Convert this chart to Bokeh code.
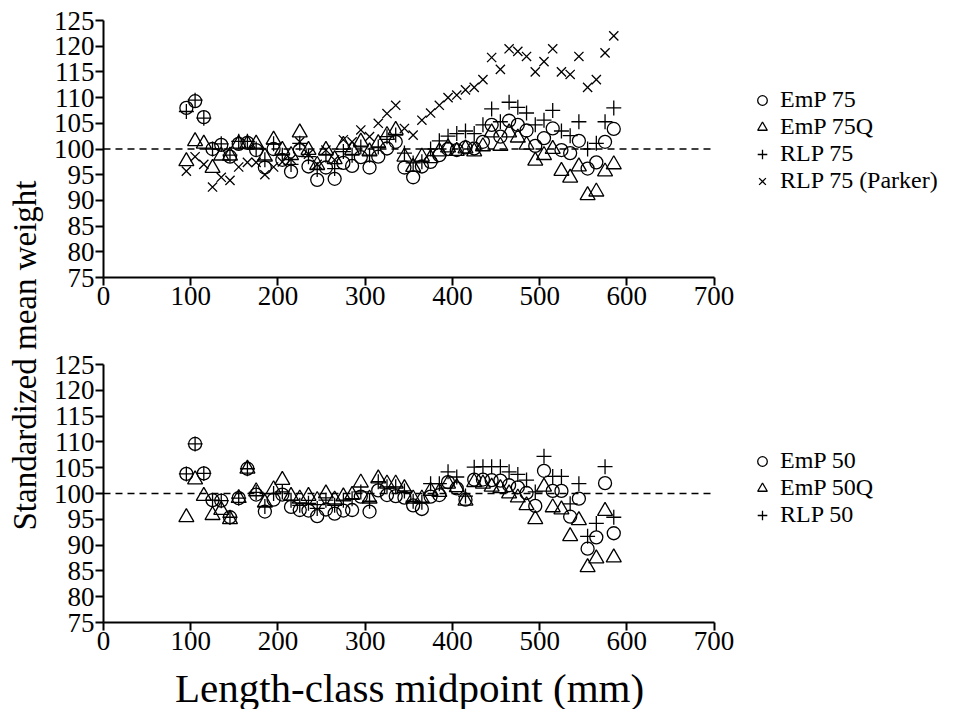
import math
from bokeh.plotting import figure
from bokeh.models import Range1d, FixedTicker, Legend, LegendItem, Label
from bokeh.layouts import row, column
from bokeh.embed import file_html
from bokeh.resources import INLINE

FONT = "Liberation Serif"

# ---------------- data ----------------
LENGTH = [95, 105, 115, 125, 135, 145, 155, 165, 175, 185,
          195, 205, 215, 225, 235, 245, 255, 265, 275, 285,
          295, 305, 315, 325, 335, 345, 355, 365, 375, 385,
          395, 405, 415, 425, 435, 445, 455, 465, 475, 485,
          495, 505, 515, 525, 535, 545, 555, 565, 575, 585]

EMP75 = [108.0, 109.3, 106.2, 100.0, 100.8, 98.5, 101.0, 101.2, 99.8, 96.4,
         100.0, 97.9, 95.6, 99.8, 96.6, 94.0, 96.4, 94.2, 97.3, 96.7,
         98.4, 96.4, 98.5, 100.1, 101.4, 96.4, 94.5, 96.6, 97.5, 98.8,
         100.0, 99.8, 100.3, 100.1, 101.4, 104.7, 102.4, 105.5, 104.7, 103.6,
         100.6, 102.1, 104.0, 99.8, 99.2, 101.6, 96.2, 97.4, 101.4, 103.9]

EMP75Q = [97.6, 101.5, 101.0, 96.3, 98.7, 98.7, 101.0, 101.0, 101.0, 98.5,
          101.8, 99.8, 98.8, 103.2, 99.8, 96.9, 99.8, 98.0, 100.8, 99.8,
          101.4, 99.5, 101.1, 102.7, 103.7, 98.5, 96.5, 98.5, 98.2, 99.5,
          100.3, 99.6, 100.1, 99.5, 100.5, 103.2, 100.6, 103.2, 102.2, 100.8,
          97.7, 98.8, 100.0, 95.7, 94.4, 96.6, 91.0, 91.7, 95.6, 97.0]

RLP75 = [107.3, 109.5, 106.0, 100.0, 101.0, 98.8, 101.5, 101.5, 100.0, 97.9,
         101.0, 98.8, 97.0, 101.1, 98.5, 96.0, 98.8, 96.2, 99.5, 98.8,
         100.4, 98.8, 100.4, 102.4, 102.7, 99.2, 97.3, 97.5, 100.0, 101.6,
         102.5, 103.0, 103.5, 103.0, 104.7, 107.8, 105.3, 109.1, 108.1, 107.0,
         104.7, 105.6, 107.5, 103.5, 102.6, 105.3, 100.0, 101.1, 105.3, 108.0]

PARKER75 = [95.7, 98.5, 97.0, 92.6, 94.5, 93.9, 96.5, 97.4, 97.4, 95.0,
            96.5, 97.5, 98.0, 101.4, 99.0, 97.0, 99.8, 97.9, 101.8, 101.4,
            103.7, 102.4, 105.0, 106.9, 108.5, 104.0, 102.7, 105.6, 107.0, 108.5,
            110.0, 110.5, 111.5, 112.0, 113.5, 117.8, 115.5, 119.5, 119.0, 118.0,
            115.0, 117.0, 119.5, 115.0, 114.5, 118.0, 112.0, 113.5, 118.7, 122.0]

EMP50 = [103.8, 109.6, 103.9, 98.7, 98.6, 95.4, 99.1, 104.8, 99.8, 96.5,
         98.8, 99.8, 97.4, 96.8, 96.7, 95.6, 96.9, 96.1, 96.7, 96.8,
         99.4, 96.5, 100.6, 99.7, 99.5, 99.2, 97.7, 97.0, 99.4, 99.7,
         102.2, 101.0, 98.8, 102.7, 102.7, 102.6, 102.5, 101.6, 101.2, 100.1,
         97.6, 104.4, 100.5, 100.5, 95.5, 99.0, 89.3, 91.5, 102.0, 92.3]

EMP50Q = [95.4, 102.7, 99.5, 95.8, 96.8, 95.0, 99.1, 104.8, 100.4, 98.2,
          100.8, 102.6, 99.5, 99.0, 99.5, 98.7, 100.0, 98.8, 99.4, 99.7,
          102.1, 99.0, 102.9, 101.9, 101.9, 101.0, 99.0, 99.0, 100.5, 100.3,
          101.9, 101.2, 98.6, 102.2, 101.9, 101.3, 101.0, 100.0, 99.2, 97.7,
          95.0, 101.3, 97.3, 96.9, 91.7, 94.8, 85.7, 87.4, 96.6, 87.6]

RLP50 = [103.8, 109.6, 103.9, 98.7, 98.6, 95.4, 99.1, 104.8, 100.2, 97.5,
         100.0, 100.3, 98.7, 97.7, 98.1, 97.1, 98.7, 97.7, 98.7, 99.0,
         100.3, 98.5, 102.3, 101.3, 101.3, 100.5, 98.5, 98.3, 101.9, 101.9,
         104.2, 103.2, 99.5, 105.1, 105.2, 105.2, 105.2, 104.2, 103.7, 102.6,
         100.3, 107.2, 103.3, 103.3, 98.0, 101.9, 91.7, 94.2, 105.2, 95.4]

X_TICKS = [0, 100, 200, 300, 400, 500, 600, 700]
Y_TICKS = [75, 80, 85, 90, 95, 100, 105, 110, 115, 120, 125]
REF_X = [0, 700]
REF_Y = [100, 100]

TOP_LABELS = ["EmP 75", "EmP 75Q", "RLP 75", "RLP 75 (Parker)"]
BOTTOM_LABELS = ["EmP 50", "EmP 50Q", "RLP 50"]
X_TITLE = "Length-class midpoint (mm)"
Y_TITLE = "Standardized mean weight"

# ---------------- layout constants (screen pixels) ----------------
LABEL_W = 50
PLOT_W = 910
BORDER_LEFT = 51
X_VIEW_END = 982.5      # the frame continues right of 700 so the legend sits inside it
TOP_LEGEND_OFFSETS = [164, 137, 110, 83]
BOTTOM_LEGEND_OFFSETS = [148, 121, 94]
LEGEND_X = 647
X_TITLE_CENTER = 306    # half of the 0-700 axis length, from the frame's left edge


def style_axes(p):
    for ax in (p.xaxis, p.yaxis):
        ax.axis_line_width = 2
        ax.axis_line_color = "black"
        ax.major_tick_line_width = 2
        ax.major_tick_line_color = "black"
        ax.major_tick_out = 8
        ax.major_tick_in = 0
        ax.minor_tick_out = 0
        ax.minor_tick_in = 0
        ax.major_label_text_font = FONT
        ax.major_label_text_font_size = "27px"
        ax.major_label_text_color = "black"
        ax.major_label_standoff = 1
    p.xaxis.ticker = FixedTicker(ticks=X_TICKS)
    p.xaxis.bounds = (X_TICKS[0], X_TICKS[-1])
    p.yaxis.ticker = FixedTicker(ticks=Y_TICKS)
    p.yaxis.bounds = (Y_TICKS[0], Y_TICKS[-1])


def make_panel(height, btop, bbottom):
    p = figure(width=PLOT_W, height=height, output_backend="svg", toolbar_location=None,
               x_range=Range1d(X_TICKS[0], X_VIEW_END),
               y_range=Range1d(Y_TICKS[0], Y_TICKS[-1]),
               min_border_left=BORDER_LEFT, min_border_right=0,
               min_border_top=btop, min_border_bottom=bbottom, outline_line_color=None,
               background_fill_color="white", border_fill_color="white")
    p.grid.visible = False
    style_axes(p)
    p.line(REF_X, REF_Y, line_color="black", line_width=1.5, line_dash="7 5")
    return p


def add_series(p, ys, marker, size):
    return p.scatter(LENGTH, ys, marker=marker, size=size, fill_color=None,
                     line_color="black", line_width=1.3)


def add_legend(p, renderers, labels, offsets):
    for l, r, vy in zip(labels, renderers, offsets):
        leg = Legend(items=[LegendItem(label=l, renderers=[r])], location=(LEGEND_X, vy),
                     glyph_width=24, glyph_height=24, label_height=23, spacing=0,
                     padding=0, margin=0, label_standoff=6,
                     border_line_color=None, background_fill_alpha=0,
                     label_text_font=FONT, label_text_font_size="24px",
                     label_text_color="black")
        p.add_layout(leg)


# top panel
top = make_panel(340, 20, 63)
r1 = add_series(top, EMP75, "circle", 13)
r2 = add_series(top, EMP75Q, "triangle", 15)
r3 = add_series(top, RLP75, "cross", 15)
r4 = add_series(top, PARKER75, "x", 13)
add_legend(top, [r1, r2, r3, r4], TOP_LABELS, TOP_LEGEND_OFFSETS)

# bottom panel
bot = make_panel(324, 24, 42)
s1 = add_series(bot, EMP50, "circle", 13)
s2 = add_series(bot, EMP50Q, "triangle", 15)
s3 = add_series(bot, RLP50, "cross", 15)
add_legend(bot, [s1, s2, s3], BOTTOM_LABELS, BOTTOM_LEGEND_OFFSETS)

# x-axis title strip, centred under the 0-700 axis
xt = figure(width=PLOT_W, height=45, output_backend="svg", toolbar_location=None,
            x_axis_type=None, y_axis_type=None, x_range=Range1d(0, 1), y_range=Range1d(0, 1),
            outline_line_color=None, min_border=0)
xt.grid.visible = False
xt.add_layout(Label(x=X_TITLE_CENTER, y=22, x_units="screen", y_units="screen",
                    text=X_TITLE, text_font=FONT, text_font_size="41px",
                    text_align="center", text_baseline="middle", text_color="black"))

# shared y title
lab = figure(width=LABEL_W, height=709, output_backend="svg", toolbar_location=None,
             x_axis_type=None, y_axis_type=None, x_range=Range1d(0, 1), y_range=Range1d(0, 1),
             outline_line_color=None, min_border=0)
lab.grid.visible = False
lab.add_layout(Label(x=24, y=354, x_units="screen", y_units="screen", angle=math.pi / 2,
                     text=Y_TITLE, text_font=FONT, text_font_size="33px",
                     text_align="center", text_baseline="middle", text_color="black"))

layout = row(lab, column(top, bot, xt))
open("out.html", "w").write(file_html(layout, INLINE))
